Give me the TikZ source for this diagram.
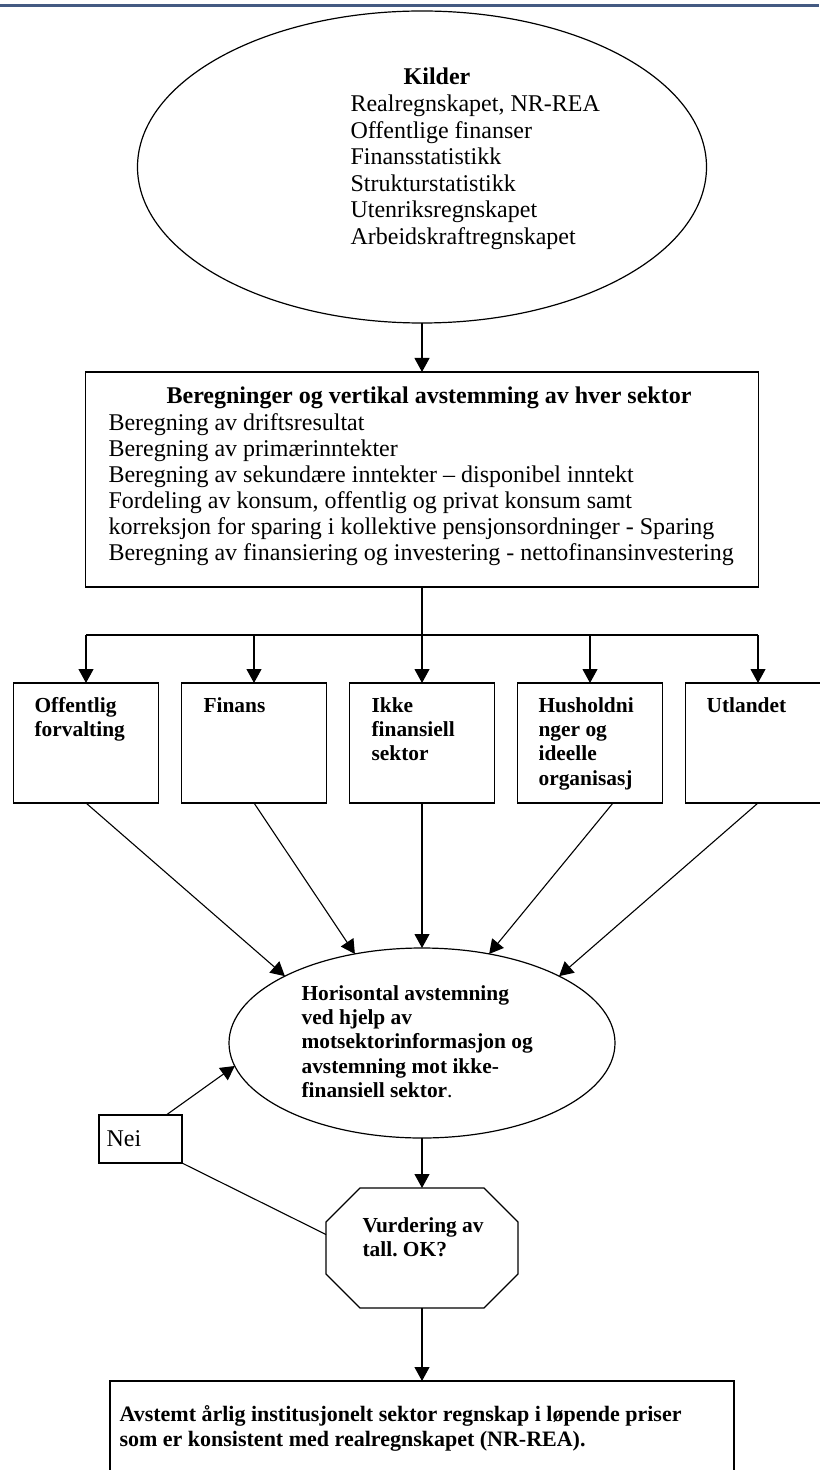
\documentclass[tikz,border=0pt]{standalone}
\usepackage{fontspec}
\setmainfont{Liberation Serif}
\usetikzlibrary{arrows.meta,shapes.geometric}
\definecolor{headerblue}{RGB}{68,90,130}
\frenchspacing

\begin{document}
\begin{tikzpicture}[x=0.5pt,y=-0.5pt,line width=0.55pt,
  >={Triangle[length=7pt,width=7.5pt]},
  box/.style={draw,line width=0.6pt,inner sep=0pt,outer sep=0pt},
  sector/.style={box,minimum width=72.5pt,minimum height=60pt},
  txt/.style={inner sep=0pt,anchor=north west,align=left,font=\fontsize{12pt}{13pt}\selectfont},
  btxt/.style={inner sep=0pt,anchor=north west,align=left,font=\bfseries\fontsize{10.7pt}{12.1pt}\selectfont}]
\useasboundingbox (0,0) rectangle (819,1470);

\draw [headerblue, line width=1.5pt] (0,6) -- (819,6);

% kilder
\node [box, ellipse, minimum width=284.5pt, minimum height=156pt] (kilder) at (422,167) {};
\node [inner sep=0pt, anchor=base, font=\bfseries\fontsize{12pt}{13pt}\selectfont] (kildertitle) at (437,85) {Kilder};
\node [txt, font=\fontsize{12pt}{13.25pt}\selectfont] (kilderlist) at (350,94.4) {Realregnskapet, NR-REA\\
Offentlige finanser\\
Finansstatistikk\\
Strukturstatistikk\\
Utenriksregnskapet\\
Arbeidskraftregnskapet};

% beregninger
\node [box, minimum width=336.5pt, minimum height=107.5pt] (beregn) at (422,479.5) {};
\node [inner sep=0pt, anchor=base, font=\bfseries\fontsize{12pt}{13pt}\selectfont] (beregntitle) at (429,404) {Beregninger og vertikal avstemming av hver sektor};
\node [txt] (beregnlist) at (108,413.4) {Beregning av driftsresultat\\
Beregning av primærinntekter\\
Beregning av sekundære inntekter – disponibel inntekt\\
Fordeling av konsum, offentlig og privat konsum samt\\
korreksjon for sparing i kollektive pensjonsordninger - Sparing\\
Beregning av finansiering og investering - nettofinansinvestering};

\draw [->] (kilder.south) -- (beregn.north);

% sektorer
\node [sector] (s1) at (86,743) {};
\node [sector] (s2) at (254,743) {};
\node [sector] (s3) at (422,743) {};
\node [sector] (s4) at (590,743) {};
\node [sector] (s5) at (758,743) {};

\node [btxt] (s1txt) at (34,697) {Offentlig\\forvalting};
\node [btxt] (s2txt) at (203,697) {Finans};
\node [btxt] (s3txt) at (371,697) {Ikke\\finansiell\\sektor};
\node [btxt] (s4txt) at (538,697) {Husholdni\\nger og\\ideelle\\organisasj};
\node [btxt] (s5txt) at (706,697) {Utlandet};

\coordinate (fork) at (422,635);
\draw (beregn.south) -- (fork);
\draw (s1.north |- fork) -- (s5.north |- fork);
\foreach \s in {s1,s2,s3,s4,s5}
  \draw [->] (\s.north |- fork) -- (\s.north);

% horisontal avstemming
\node [box, ellipse, minimum width=193pt, minimum height=95pt] (horiz) at (422,1043) {};
\node [btxt] (horiztxt) at (301,985) {Horisontal avstemning\\
ved hjelp av\\
motsektorinformasjon og\\
avstemning mot ikke-\\
finansiell sektor{\mdseries .}};

\draw [->] (s1.south) -- (horiz.154);
\draw [->] (s2.south) -- (horiz.127);
\draw [->] (s3.south) -- (horiz.north);
\draw [->] ([xshift=11.5pt]s4.south) -- (horiz.53);
\draw [->] (s5.south) -- (horiz.26);

% nei
\node [box, minimum width=41.5pt, minimum height=24pt] (nei) at (140.5,1139) {};
\node [inner sep=0pt, anchor=base west, font=\fontsize{12pt}{13pt}\selectfont] (neitxt) at (106,1146) {Nei};
\draw [->] (nei.43) -- (horiz.187);

% vurdering
\node [minimum width=96pt, minimum height=60pt, inner sep=0pt, outer sep=0pt] (vurd) at (422,1248) {};
\draw [line width=0.6pt] ([xshift=17pt]vurd.north west) -- ([xshift=-17pt]vurd.north east)
  -- ([yshift=-17pt]vurd.north east) -- ([yshift=17pt]vurd.south east)
  -- ([xshift=-17pt]vurd.south east) -- ([xshift=17pt]vurd.south west)
  -- ([yshift=17pt]vurd.south west) -- ([yshift=-17pt]vurd.north west) -- cycle;
\node [btxt] (vurdtxt) at (362,1217) {Vurdering av\\tall. OK?};

\draw [->] (horiz.south) -- (vurd.north);
\draw (nei.south east) -- (vurd.172);

% resultat
\node [box, minimum width=312pt, minimum height=60pt, anchor=north] (result) at (422,1381) {};
\node [btxt, font=\bfseries\fontsize{11pt}{12.5pt}\selectfont] (resulttxt) at (119,1405) {Avstemt årlig institusjonelt sektor regnskap i løpende priser\\
som er konsistent med realregnskapet (NR-REA).};
\draw [->] (vurd.south) -- (result.north);

\end{tikzpicture}
\end{document}
